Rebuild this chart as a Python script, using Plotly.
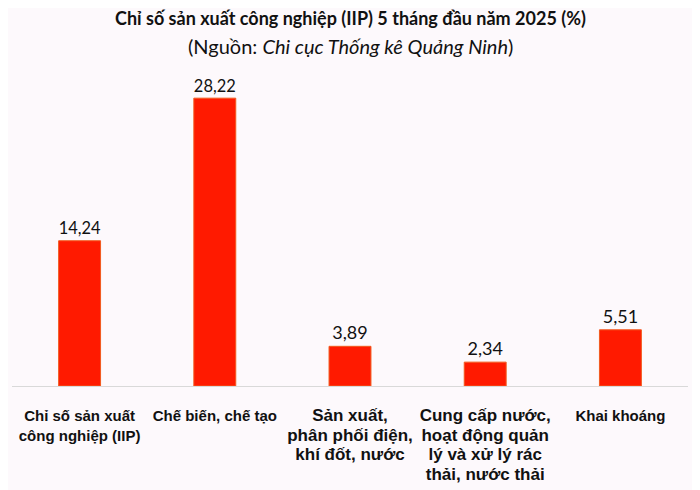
import plotly.graph_objects as go

# --- data ---
categories = [
    "Chỉ số sản xuất<br>công nghiệp (IIP)",
    "Chế biến, chế tạo",
    "Sản xuất,<br>phân phối điện,<br>khí đốt, nước",
    "Cung cấp nước,<br>hoạt động quản<br>lý và xử lý rác<br>thải, nước thải",
    "Khai khoáng",
]
# labels 3 and 4 are set in a larger face in the original
label_sizes = [15, 15, 17, 17, 15]
values = [14.24, 28.22, 3.89, 2.34, 5.51]

title_text = "Chỉ số sản xuất công nghiệp (IIP) 5 tháng đầu năm 2025 (%)"
subtitle_text = "(Nguồn: <i>Chi cục Thống kê Quảng Ninh</i>)"

BG = "#FDF9FC"
RED = "#FF1A00"

fig = go.Figure()
fig.add_trace(go.Bar(
    x=list(range(len(categories))), y=values,
    marker=dict(color=RED, line=dict(color="#F25A1E", width=1)),
    texttemplate="%{y:.2f}", textposition="outside",
    textfont=dict(family="Lato", size=18, color="#111111"),
    cliponaxis=False,
))

ticktext = [
    f"<b><span style='font-size:{s}px'>{c}</span></b>" if s != 15 else f"<b>{c}</b>"
    for c, s in zip(categories, label_sizes)
]

# page body adds ~8px offset, so margins are shifted up/left
fig.update_layout(
    width=700, height=490,
    paper_bgcolor=BG, plot_bgcolor=BG,
    separators=",.",
    margin=dict(l=4, r=20, t=72, b=112, autoexpand=False),
    bargap=0.69,
    showlegend=False,
    xaxis=dict(
        tickmode="array", tickvals=list(range(len(categories))),
        ticktext=ticktext,
        tickfont=dict(family="Liberation Sans", size=15, color="#111111"),
        range=[-0.5, len(categories) - 0.5],
        showline=True, linecolor="#D9D9D9", linewidth=1,
        ticks="", ticklabelstandoff=16, automargin=False,
        showgrid=False, zeroline=False,
    ),
    yaxis=dict(
        range=[0, 30], visible=False, showgrid=False, zeroline=False,
        automargin=False,
    ),
    annotations=[
        dict(text=f"<b>{title_text}</b>", xref="paper", yref="paper",
             x=0.5, y=1, yshift=62, xanchor="center", yanchor="middle",
             showarrow=False, font=dict(family="Lato", size=18, color="#111111")),
        dict(text=subtitle_text, xref="paper", yref="paper",
             x=0.5, y=1, yshift=34, xanchor="center", yanchor="middle",
             showarrow=False, font=dict(family="Lato", size=20, color="#111111")),
    ],
)

fig.write_html("out.html")
